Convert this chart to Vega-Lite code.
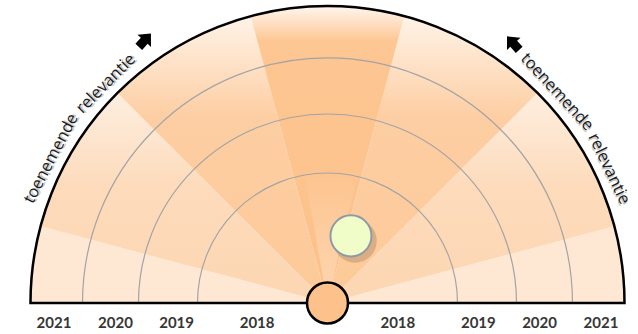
{
  "$schema": "https://vega.github.io/schema/vega-lite/v6.json",
  "width": 638,
  "height": 334,
  "autosize": "none",
  "padding": 0,
  "background": "white",
  "config": {"view": {"stroke": null}},
  "datasets": {
    "sectors": [
      {"start": 0, "end": 15, "zone": "buiten"},
      {"start": 15, "end": 45, "zone": "midden"},
      {"start": 45, "end": 75, "zone": "binnen"},
      {"start": 75, "end": 105, "zone": "kern"},
      {"start": 105, "end": 135, "zone": "binnen"},
      {"start": 135, "end": 165, "zone": "midden"},
      {"start": 165, "end": 180, "zone": "buiten"}
    ],
    "rings": [{"jaar": "2018", "r": 43.77}, {"jaar": "2019", "r": 63.64}, {"jaar": "2020", "r": 82.49}],
    "labels": [
      {"jaar": "2018", "pos": -23.7}, {"jaar": "2019", "pos": -50.8}, {"jaar": "2020", "pos": -71.4}, {"jaar": "2021", "pos": -92.1},
      {"jaar": "2018", "pos": 23.7}, {"jaar": "2019", "pos": 50.8}, {"jaar": "2020", "pos": 71.4}, {"jaar": "2021", "pos": 92.1}
    ],
    "words": [
      {"woord": "toenemende", "hoek": 27.6},
      {"woord": "relevantie", "hoek": 44.7},
      {"woord": "toenemende", "hoek": 137.4},
      {"woord": "relevantie", "hoek": 154.5}
    ],
    "arrows": [{"dir": "cw", "x": -61.5, "y": 88.5}, {"dir": "ccw", "x": 62.5, "y": 87.5}],
    "items": [{"naam": "item", "x": 7.9, "y": 22.6}]
  },
  "layer": [
    {
      "data": {"name": "sectors"},
      "transform": [{"filter": "datum.zone === 'buiten'"}],
      "mark": {"type": "arc", "color": "#FEE7D3"},
      "encoding": {
        "x": {"datum": 0, "type": "quantitative", "scale": {"domain": [-110.27, 104.55]}, "axis": null},
        "y": {"datum": 0, "type": "quantitative", "scale": {"domain": [-10.44, 102.02]}, "axis": null},
        "theta": {"field": "start", "type": "quantitative", "scale": {"type": "linear", "domain": [0, 180], "range": [-1.5708, 1.5708]}},
        "theta2": {"field": "end"},
        "radius": {"datum": 100, "type": "quantitative", "scale": {"type": "linear", "zero": true, "domain": [0, 100], "range": [0, 297]}}
      }
    },
    {
      "data": {"name": "sectors"},
      "transform": [{"filter": "datum.zone === 'midden'"}],
      "mark": {"type": "arc", "color": {"gradient": "linear", "x1": 0, "y1": 0, "x2": 0, "y2": 1, "stops": [{"offset": 0, "color": "#FEEEE0"}, {"offset": 0.45, "color": "#FDDBBB"}, {"offset": 1, "color": "#FDD6B2"}]}},
      "encoding": {
        "x": {"datum": 0, "type": "quantitative", "scale": {"domain": [-110.27, 104.55]}, "axis": null},
        "y": {"datum": 0, "type": "quantitative", "scale": {"domain": [-10.44, 102.02]}, "axis": null},
        "theta": {"field": "start", "type": "quantitative", "scale": {"type": "linear", "domain": [0, 180], "range": [-1.5708, 1.5708]}},
        "theta2": {"field": "end"},
        "radius": {"datum": 100, "type": "quantitative", "scale": {"type": "linear", "zero": true, "domain": [0, 100], "range": [0, 297]}}
      }
    },
    {
      "data": {"name": "sectors"},
      "transform": [{"filter": "datum.zone === 'binnen'"}],
      "mark": {"type": "arc", "color": {"gradient": "linear", "x1": 0, "y1": 0, "x2": 0, "y2": 1, "stops": [{"offset": 0, "color": "#FFF3E8"}, {"offset": 0.35, "color": "#FDCEA3"}, {"offset": 1, "color": "#FDC998"}]}},
      "encoding": {
        "x": {"datum": 0, "type": "quantitative", "scale": {"domain": [-110.27, 104.55]}, "axis": null},
        "y": {"datum": 0, "type": "quantitative", "scale": {"domain": [-10.44, 102.02]}, "axis": null},
        "theta": {"field": "start", "type": "quantitative", "scale": {"type": "linear", "domain": [0, 180], "range": [-1.5708, 1.5708]}},
        "theta2": {"field": "end"},
        "radius": {"datum": 100, "type": "quantitative", "scale": {"type": "linear", "zero": true, "domain": [0, 100], "range": [0, 297]}}
      }
    },
    {
      "data": {"name": "sectors"},
      "transform": [{"filter": "datum.zone === 'kern'"}],
      "mark": {"type": "arc", "color": {"gradient": "linear", "x1": 0, "y1": 0, "x2": 0, "y2": 1, "stops": [{"offset": 0, "color": "#FFF6EE"}, {"offset": 0.12, "color": "#FDC692"}, {"offset": 1, "color": "#FDC18A"}]}},
      "encoding": {
        "x": {"datum": 0, "type": "quantitative", "scale": {"domain": [-110.27, 104.55]}, "axis": null},
        "y": {"datum": 0, "type": "quantitative", "scale": {"domain": [-10.44, 102.02]}, "axis": null},
        "theta": {"field": "start", "type": "quantitative", "scale": {"type": "linear", "domain": [0, 180], "range": [-1.5708, 1.5708]}},
        "theta2": {"field": "end"},
        "radius": {"datum": 100, "type": "quantitative", "scale": {"type": "linear", "zero": true, "domain": [0, 100], "range": [0, 297]}}
      }
    },
    {
      "data": {"values": [{"start": 80, "end": 103}]},
      "mark": {"type": "arc", "color": {"gradient": "linear", "x1": 0, "y1": 0, "x2": 0, "y2": 1, "stops": [{"offset": 0, "color": "rgba(255,245,235,0)"}, {"offset": 1, "color": "rgba(255,240,225,0.45)"}]}},
      "encoding": {
        "x": {"datum": 0, "type": "quantitative", "scale": {"domain": [-110.27, 104.55]}, "axis": null},
        "y": {"datum": 0, "type": "quantitative", "scale": {"domain": [-10.44, 102.02]}, "axis": null},
        "theta": {"field": "start", "type": "quantitative", "scale": {"type": "linear", "domain": [0, 180], "range": [-1.5708, 1.5708]}},
        "theta2": {"field": "end"},
        "radius": {"datum": 45, "type": "quantitative", "scale": {"type": "linear", "zero": true, "domain": [0, 100], "range": [0, 297]}}
      }
    },
    {
      "data": {"name": "rings"},
      "mark": {"type": "arc", "filled": false, "stroke": "#A4A4A4", "strokeWidth": 1.2},
      "encoding": {
        "x": {"datum": 0, "type": "quantitative", "scale": {"domain": [-110.27, 104.55]}, "axis": null},
        "y": {"datum": 0, "type": "quantitative", "scale": {"domain": [-10.44, 102.02]}, "axis": null},
        "theta": {"datum": 0, "type": "quantitative", "scale": {"type": "linear", "domain": [0, 180], "range": [-1.5708, 1.5708]}},
        "theta2": {"datum": 180},
        "radius": {"field": "r", "type": "quantitative", "scale": {"type": "linear", "zero": true, "domain": [0, 100], "range": [0, 297]}},
        "radius2": {"field": "r"}
      }
    },
    {
      "data": {"values": [{"rand": "buitenrand"}]},
      "mark": {"type": "arc", "filled": false, "stroke": "#000000", "strokeWidth": 2.5},
      "encoding": {
        "x": {"datum": 0, "type": "quantitative", "scale": {"domain": [-110.27, 104.55]}, "axis": null},
        "y": {"datum": 0, "type": "quantitative", "scale": {"domain": [-10.44, 102.02]}, "axis": null},
        "theta": {"datum": 0, "type": "quantitative", "scale": {"type": "linear", "domain": [0, 180], "range": [-1.5708, 1.5708]}},
        "theta2": {"datum": 180},
        "radius": {"datum": 100, "type": "quantitative", "scale": {"type": "linear", "zero": true, "domain": [0, 100], "range": [0, 297]}}
      }
    },
    {
      "data": {"values": [{"naam": "centrum", "x": 0, "y": 0}]},
      "mark": {"type": "point", "shape": "circle", "filled": true, "size": 1681, "fill": "#FDC28C", "stroke": "#000000", "strokeWidth": 2.5, "opacity": 1},
      "encoding": {
        "x": {"field": "x", "type": "quantitative", "scale": {"domain": [-110.27, 104.55]}, "axis": null},
        "y": {"field": "y", "type": "quantitative", "scale": {"domain": [-10.44, 102.02]}, "axis": null}
      }
    },
    {
      "data": {"name": "items"},
      "mark": {"type": "point", "shape": "circle", "filled": true, "size": 1900, "color": "#8A6A50", "opacity": 0.3, "xOffset": 4, "yOffset": 5},
      "encoding": {
        "x": {"field": "x", "type": "quantitative", "scale": {"domain": [-110.27, 104.55]}, "axis": null},
        "y": {"field": "y", "type": "quantitative", "scale": {"domain": [-10.44, 102.02]}, "axis": null}
      }
    },
    {
      "data": {"name": "items"},
      "mark": {"type": "point", "shape": "circle", "filled": true, "size": 1681, "fill": "#F1FDC9", "stroke": "#8E9AA6", "strokeWidth": 2, "opacity": 1},
      "encoding": {
        "x": {"field": "x", "type": "quantitative", "scale": {"domain": [-110.27, 104.55]}, "axis": null},
        "y": {"field": "y", "type": "quantitative", "scale": {"domain": [-10.44, 102.02]}, "axis": null}
      }
    },
    {
      "data": {"name": "labels"},
      "mark": {"type": "text", "font": "Lato", "fontSize": 15, "fontWeight": "bold", "color": "#363636", "align": "center", "baseline": "middle"},
      "encoding": {
        "x": {"field": "pos", "type": "quantitative", "scale": {"domain": [-110.27, 104.55]}, "axis": null},
        "y": {"datum": -6.73, "type": "quantitative", "scale": {"domain": [-10.44, 102.02]}, "axis": null},
        "text": {"field": "jaar"}
      }
    },
    {
      "data": {"name": "words"},
      "mark": {"type": "text", "font": "Open Sans", "fontSize": 16.5, "color": "#9A9A9A", "opacity": 0.55, "align": "center", "baseline": "middle", "dx": 1.5, "dy": 1.5},
      "encoding": {
        "x": {"datum": 0, "type": "quantitative", "scale": {"domain": [-110.27, 104.55]}, "axis": null},
        "y": {"datum": 0, "type": "quantitative", "scale": {"domain": [-10.44, 102.02]}, "axis": null},
        "theta": {"field": "hoek", "type": "quantitative", "scale": {"type": "linear", "domain": [0, 180], "range": [-1.5708, 1.5708]}},
        "radius": {"datum": 105, "type": "quantitative", "scale": {"type": "linear", "zero": true, "domain": [0, 100], "range": [0, 297]}},
        "angle": {"field": "hoek", "type": "quantitative", "scale": {"domain": [0, 180], "range": [-90, 90]}},
        "text": {"field": "woord"}
      }
    },
    {
      "data": {"name": "words"},
      "mark": {"type": "text", "font": "Open Sans", "fontSize": 16.5, "color": "#1A1A1A", "align": "center", "baseline": "middle"},
      "encoding": {
        "x": {"datum": 0, "type": "quantitative", "scale": {"domain": [-110.27, 104.55]}, "axis": null},
        "y": {"datum": 0, "type": "quantitative", "scale": {"domain": [-10.44, 102.02]}, "axis": null},
        "theta": {"field": "hoek", "type": "quantitative", "scale": {"type": "linear", "domain": [0, 180], "range": [-1.5708, 1.5708]}},
        "radius": {"datum": 105, "type": "quantitative", "scale": {"type": "linear", "zero": true, "domain": [0, 100], "range": [0, 297]}},
        "angle": {"field": "hoek", "type": "quantitative", "scale": {"domain": [0, 180], "range": [-90, 90]}},
        "text": {"field": "woord"}
      }
    },
    {
      "data": {"name": "arrows"},
      "mark": {"type": "point", "shape": "M -0.5 1 L 0.5 1 L 0.5 0.1 L 1 0.1 L 0 -1 L -1 0.1 L -0.5 0.1 Z", "filled": true, "size": 330, "color": "#000000", "opacity": 1},
      "encoding": {
        "x": {"field": "x", "type": "quantitative", "scale": {"domain": [-110.27, 104.55]}, "axis": null},
        "y": {"field": "y", "type": "quantitative", "scale": {"domain": [-10.44, 102.02]}, "axis": null},
        "angle": {"field": "dir", "type": "nominal", "scale": {"domain": ["cw", "ccw"], "range": [42, -42]}, "legend": null}
      }
    }
  ]
}
